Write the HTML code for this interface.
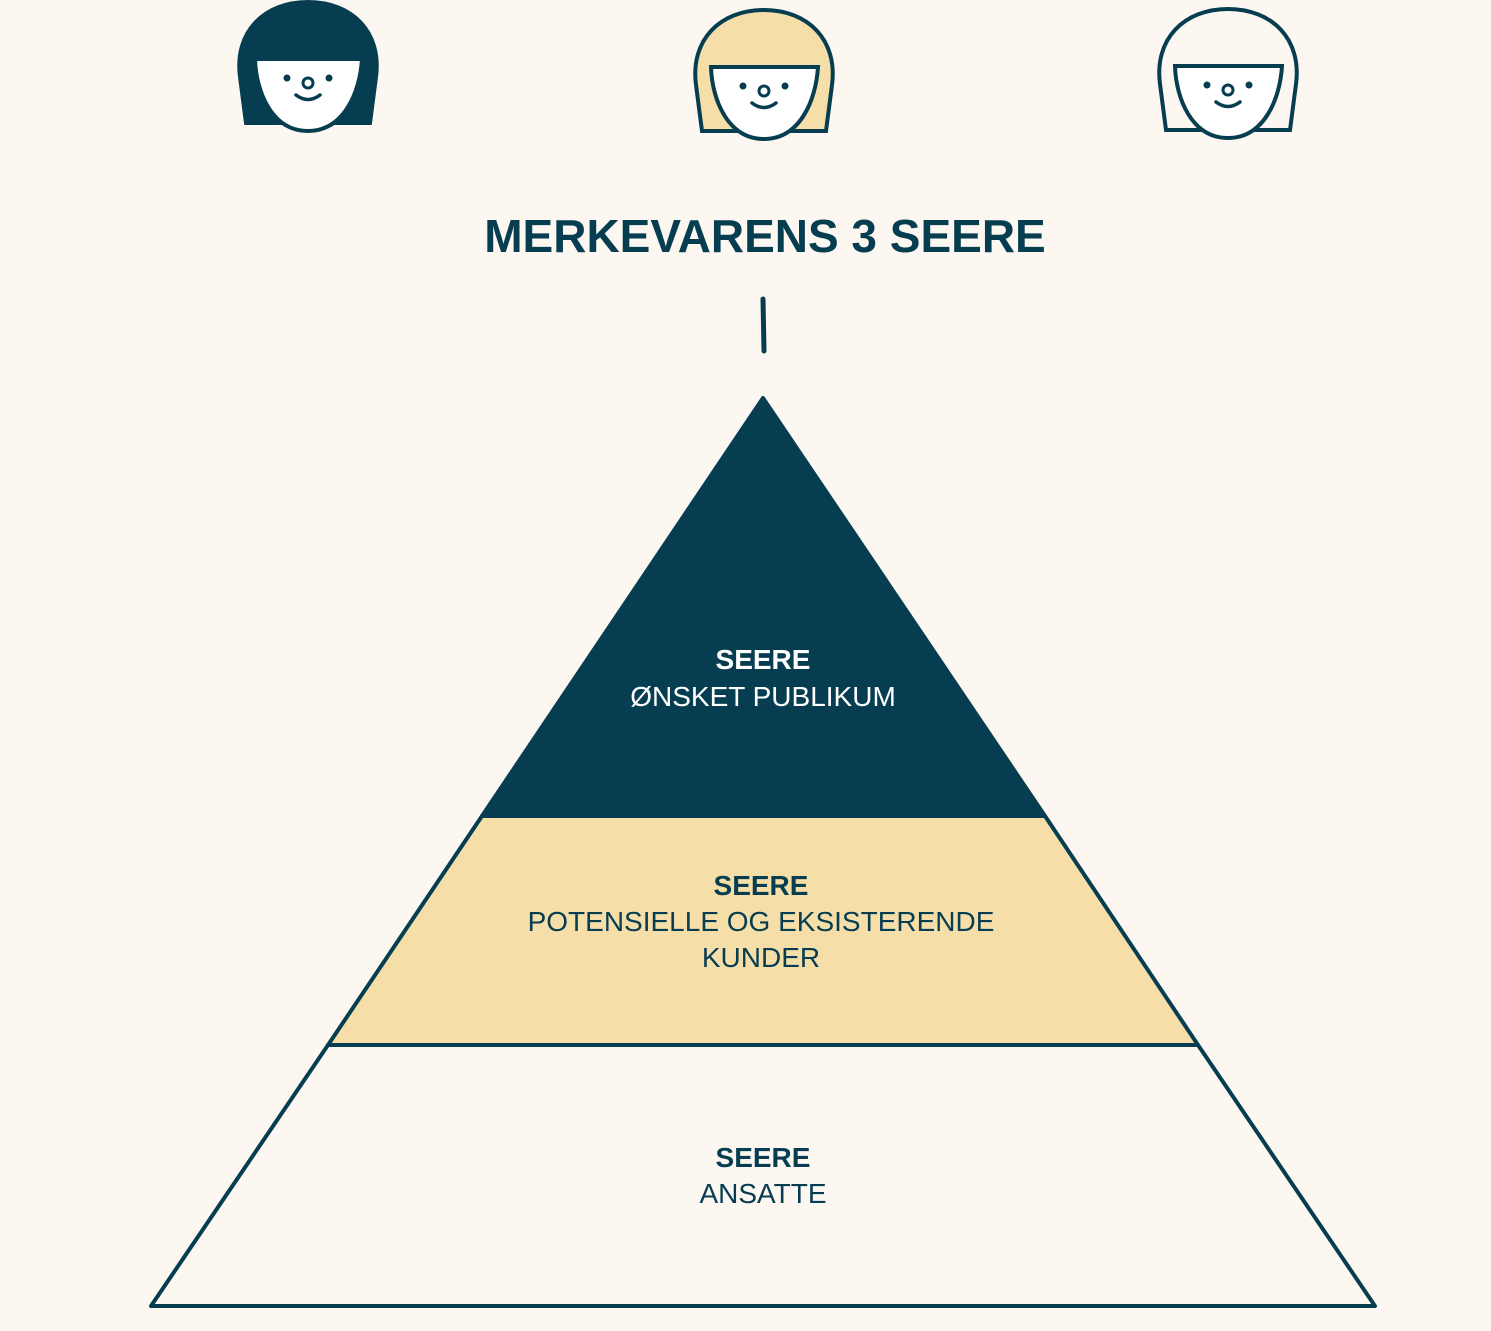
<!DOCTYPE html>
<html><head><style>
body{margin:0;background:#fcf8f1;}
svg{display:block}
text{font-family:"Liberation Sans",sans-serif;}
</style></head><body>
<svg width="1491" height="1331" viewBox="0 0 1491 1331">
<rect width="1491" height="1331" fill="#fcf8f1"/>
<defs>
<g id="face">
<path d="M702,131 L696,85 C690,40 720,10 764,10 C808,10 838,40 832,85 L826,131 Z" stroke="#073d51" stroke-width="4"/>
<path d="M711,67 L818,67 C816,100 800,139 764,139 C728,139 712,100 711,67 Z" fill="#fff" stroke="#073d51" stroke-width="4"/>
<circle cx="743" cy="86" r="3.5" fill="#073d51"/>
<circle cx="785" cy="86" r="3.5" fill="#073d51"/>
<circle cx="764" cy="91" r="5" fill="none" stroke="#073d51" stroke-width="3"/>
<path d="M752,103 Q764,112 776,103" fill="none" stroke="#073d51" stroke-width="3.5" stroke-linecap="round"/>
</g>
</defs>
<use href="#face" transform="translate(-456,-8)" fill="#073d51"/>
<use href="#face" fill="#f5dea8"/>
<use href="#face" transform="translate(464,-1)" fill="#fcf8f1"/>
<text x="765" y="252" text-anchor="middle" font-size="46" font-weight="bold" fill="#073d51">MERKEVARENS 3 SEERE</text>
<line x1="763" y1="299" x2="764" y2="351" stroke="#073d51" stroke-width="5" stroke-linecap="round"/>
<polygon points="763,398 1045,816 482,816" fill="#073d51" stroke="#073d51" stroke-width="4" stroke-linejoin="round"/>
<polygon points="482,816 1045,816 1198,1045 328,1045" fill="#f5dea8" stroke="#073d51" stroke-width="4" stroke-linejoin="round"/>
<polygon points="328,1045 1198,1045 1375,1306 151,1306" fill="#fcf8f1" stroke="#073d51" stroke-width="4" stroke-linejoin="round"/>
<g text-anchor="middle" font-size="28">
<text x="763" y="669" font-weight="bold" fill="#fff">SEERE</text>
<text x="763" y="706" fill="#fff">ØNSKET PUBLIKUM</text>
<text x="761" y="895" font-weight="bold" fill="#073d51">SEERE</text>
<text x="761" y="931" fill="#073d51">POTENSIELLE OG EKSISTERENDE</text>
<text x="761" y="967" fill="#073d51">KUNDER</text>
<text x="763" y="1167" font-weight="bold" fill="#073d51">SEERE</text>
<text x="763" y="1203" fill="#073d51">ANSATTE</text>
</g>
</svg>
</body></html>
